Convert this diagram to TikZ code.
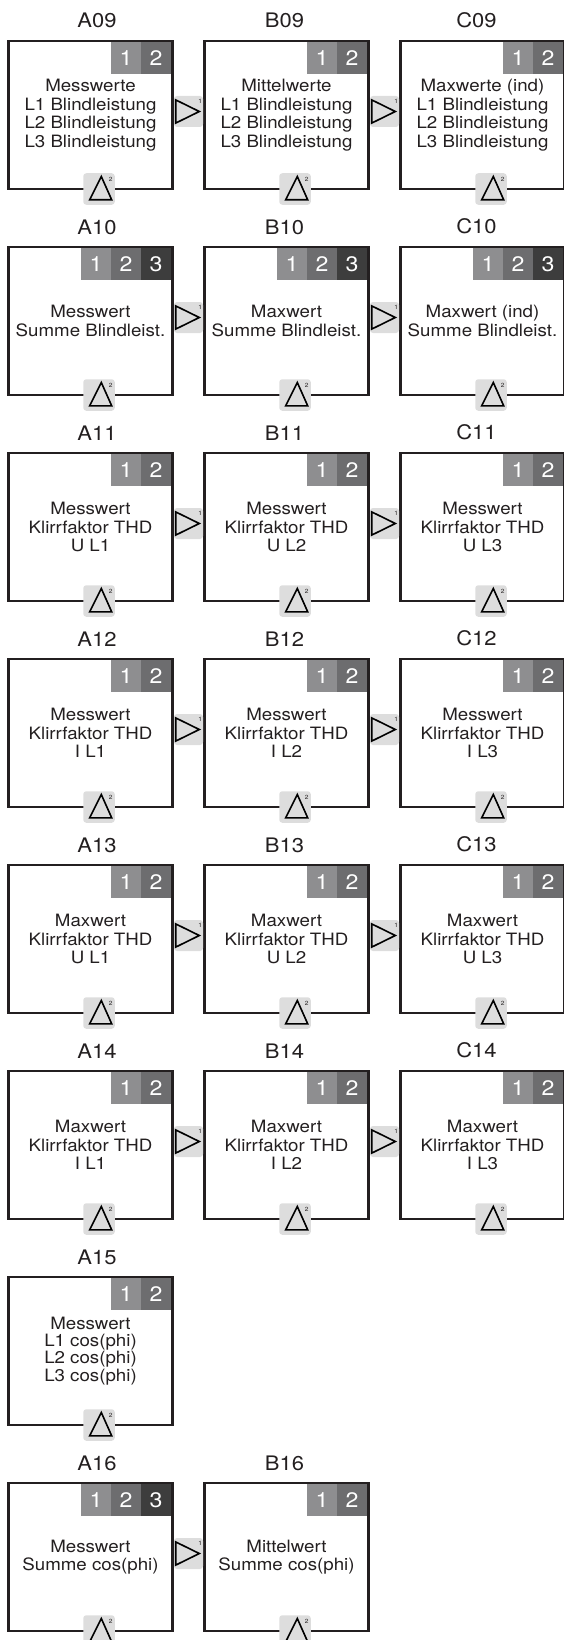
\documentclass[tikz,border=0pt]{standalone}
\usepackage{fontspec}
\setmainfont[FakeStretch=1.1]{TeX Gyre Heros}
\usetikzlibrary{positioning,calc}
\definecolor{frame}{HTML}{231F20}
\definecolor{tabA}{HTML}{8E8E90}
\definecolor{tabB}{HTML}{6D6D6F}
\definecolor{tabC}{HTML}{3D3D3D}
\definecolor{portbg}{HTML}{DDDDDD}

\begin{document}
\begin{tikzpicture}[x=1pt,y=1pt,node distance=58pt and 32pt,text=frame,
  blk/.style={draw=frame,line width=2.7pt,minimum width=164pt,minimum height=148pt,inner sep=0pt,outer sep=0pt,
    align=center,font=\fontsize{17}{18.6}\selectfont},
  ttl/.style={inner sep=0pt,font=\fontsize{20}{22}\selectfont},
  tab/.style={minimum width=30pt,minimum height=32pt,inner sep=0pt,outer sep=0pt,text=white,font=\fontsize{21}{21}\selectfont},
  sup/.style={inner sep=0pt,font=\fontsize{6}{6}\selectfont,text=frame},
  oport/.style={fill=portbg,rounded corners=3pt,minimum width=29pt,minimum height=31pt,inner sep=0pt,
    path picture={\draw[line width=1.6pt,sharp corners] ([shift={(-12.8,11.6)}]path picture bounding box.center)
      -- ++(0,-23.2) -- ++(23.6,11.6) -- cycle;
      \node[sup] at ([shift={(11.6,10.6)}]path picture bounding box.center) {1};}},
  dport/.style={fill=portbg,rounded corners=3pt,minimum size=31.5pt,inner sep=0pt,
    path picture={\draw[line width=1.6pt,sharp corners] ([shift={(-9.3,-10.8)}]path picture bounding box.center)
      -- ++(22,0) -- ++(-10.4,23.3) -- cycle;
      \node[sup] at ([shift={(11.7,9.9)}]path picture bounding box.center) {2};}}]
  \useasboundingbox (0,0) rectangle (563,-1640);

  % row 09
  \node[blk] (a09) at (90.5,-115) {Messwerte\\L1 Blindleistung\\L2 Blindleistung\\L3 Blindleistung};
  \node[blk,right=of a09] (b09) {Mittelwerte\\L1 Blindleistung\\L2 Blindleistung\\L3 Blindleistung};
  \node[blk,right=of b09] (c09) {Maxwerte (ind)\\L1 Blindleistung\\L2 Blindleistung\\L3 Blindleistung};
  % row 10
  \node[blk,below=of a09] (a10) {Messwert\\Summe Blindleist.};
  \node[blk,right=of a10] (b10) {Maxwert\\Summe Blindleist.};
  \node[blk,right=of b10] (c10) {Maxwert (ind)\\Summe Blindleist.};
  % row 11
  \node[blk,below=of a10] (a11) {Messwert\\Klirrfaktor THD\\U L1};
  \node[blk,right=of a11] (b11) {Messwert\\Klirrfaktor THD\\U L2};
  \node[blk,right=of b11] (c11) {Messwert\\Klirrfaktor THD\\U L3};
  % row 12
  \node[blk,below=of a11] (a12) {Messwert\\Klirrfaktor THD\\I L1};
  \node[blk,right=of a12] (b12) {Messwert\\Klirrfaktor THD\\I L2};
  \node[blk,right=of b12] (c12) {Messwert\\Klirrfaktor THD\\I L3};
  % row 13
  \node[blk,below=of a12] (a13) {Maxwert\\Klirrfaktor THD\\U L1};
  \node[blk,right=of a13] (b13) {Maxwert\\Klirrfaktor THD\\U L2};
  \node[blk,right=of b13] (c13) {Maxwert\\Klirrfaktor THD\\U L3};
  % row 14
  \node[blk,below=of a13] (a14) {Maxwert\\Klirrfaktor THD\\I L1};
  \node[blk,right=of a14] (b14) {Maxwert\\Klirrfaktor THD\\I L2};
  \node[blk,right=of b14] (c14) {Maxwert\\Klirrfaktor THD\\I L3};
  % row 15, 16
  \node[blk,below=of a14,font=\fontsize{17}{17.2}\selectfont] (a15) {Messwert\\L1 cos(phi)\\L2 cos(phi)\\L3 cos(phi)};
  \node[blk,below=of a15] (a16) {Messwert\\Summe cos(phi)};
  \node[blk,right=of a16] (b16) {Mittelwert\\Summe cos(phi)};

  % titles
  \foreach \b/\t in {a09/A09,a10/A10,a11/A11,a12/A12,a13/A13,a14/A14,a15/A15,a16/A16}
    \node[ttl,above=12.5pt of \b,xshift=6.5pt] (\b-t) {\t};
  \foreach \b/\t in {b09/B09,b10/B10,b11/B11,b12/B12,b13/B13,b14/B14,b16/B16}
    \node[ttl,above=12.5pt of \b,xshift=-2pt] (\b-t) {\t};
  \foreach \b/\t in {c09/C09,c10/C10,c11/C11,c12/C12,c13/C13,c14/C14}
    \node[ttl,above=12.5pt of \b,xshift=-6pt] (\b-t) {\t};

  % tabs 1 2
  \foreach \b in {a09,b09,c09,a11,b11,c11,a12,b12,c12,a13,b13,c13,a14,b14,c14,a15,b16}{
    \node[tab,fill=tabB,anchor=north east] (\b-2) at ([shift={(-1.35,-1.35)}]\b.north east) {2};
    \node[tab,fill=tabA,left=0pt of \b-2] (\b-1) {1};
  }
  % tabs 1 2 3
  \foreach \b in {a10,b10,c10,a16}{
    \node[tab,fill=tabC,anchor=north east] (\b-3) at ([shift={(-1.35,-1.35)}]\b.north east) {3};
    \node[tab,fill=tabB,left=0pt of \b-3] (\b-2) {2};
    \node[tab,fill=tabA,left=0pt of \b-2] (\b-1) {1};
  }

  % ports
  \foreach \l/\r in {a09/b09,b09/c09,a10/b10,b10/c10,a11/b11,b11/c11,a12/b12,b12/c12,
      a13/b13,b13/c13,a14/b14,b14/c14,a16/b16}
    \node[oport] (\l-out) at ($(\l.east)!0.5!(\r.west)+(0,3.5)$) {};
  \foreach \b in {a09,b09,c09,a10,b10,c10,a11,b11,c11,a12,b12,c12,a13,b13,c13,a14,b14,c14,a15,a16,b16}
    \node[dport] (\b-in) at ([xshift=8.5pt]\b.south) {};
\end{tikzpicture}
\end{document}
